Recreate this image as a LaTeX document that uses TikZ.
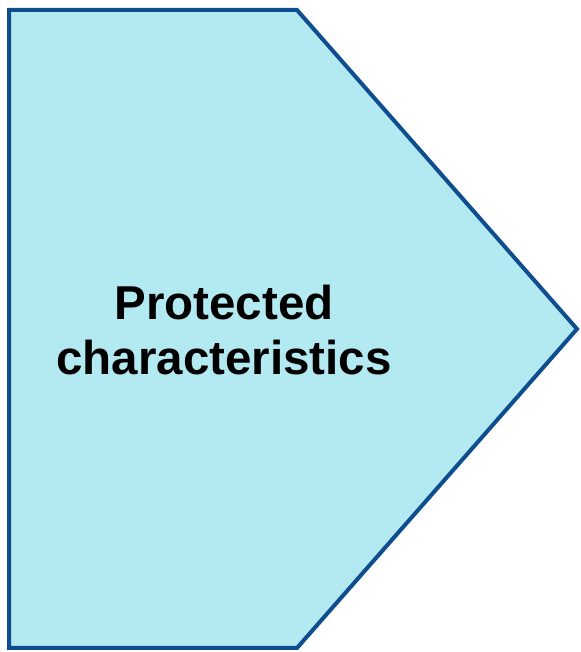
\documentclass[tikz,border=0pt]{standalone}
\usepackage{fontspec}
\setmainfont{Liberation Sans}
\usepackage{xcolor}
\definecolor{chevronfill}{HTML}{B3E9F1}
\definecolor{chevronline}{HTML}{0E4E8E}
\usetikzlibrary{positioning}

\begin{document}
\begin{tikzpicture}[
          x=1pt, y=1pt,
          every node/.style={align=center},
          chevron/.style={draw=chevronline, fill=chevronfill, line width=4pt, line join=miter},
          caption/.style={font=\fontsize{47.5}{55}\selectfont\bfseries}
        ]
          \useasboundingbox (0,0) rectangle (580,652);

          % Corners of the arrow shape
          \coordinate (topleft) at (9,642);
          \coordinate (topright) at (297,642);
          \coordinate (tip) at (577,323);
          \coordinate (bottomright) at (297,4);
          \coordinate (bottomleft) at (9,4);

          % Arrow shape
          \draw[chevron] (topleft) -- (topright) -- (tip) -- (bottomright) -- (bottomleft) -- cycle;

          % Text in the middle
          \node[caption] (label) at (224,322) {Protected\\characteristics};
        \end{tikzpicture}
\end{document}
